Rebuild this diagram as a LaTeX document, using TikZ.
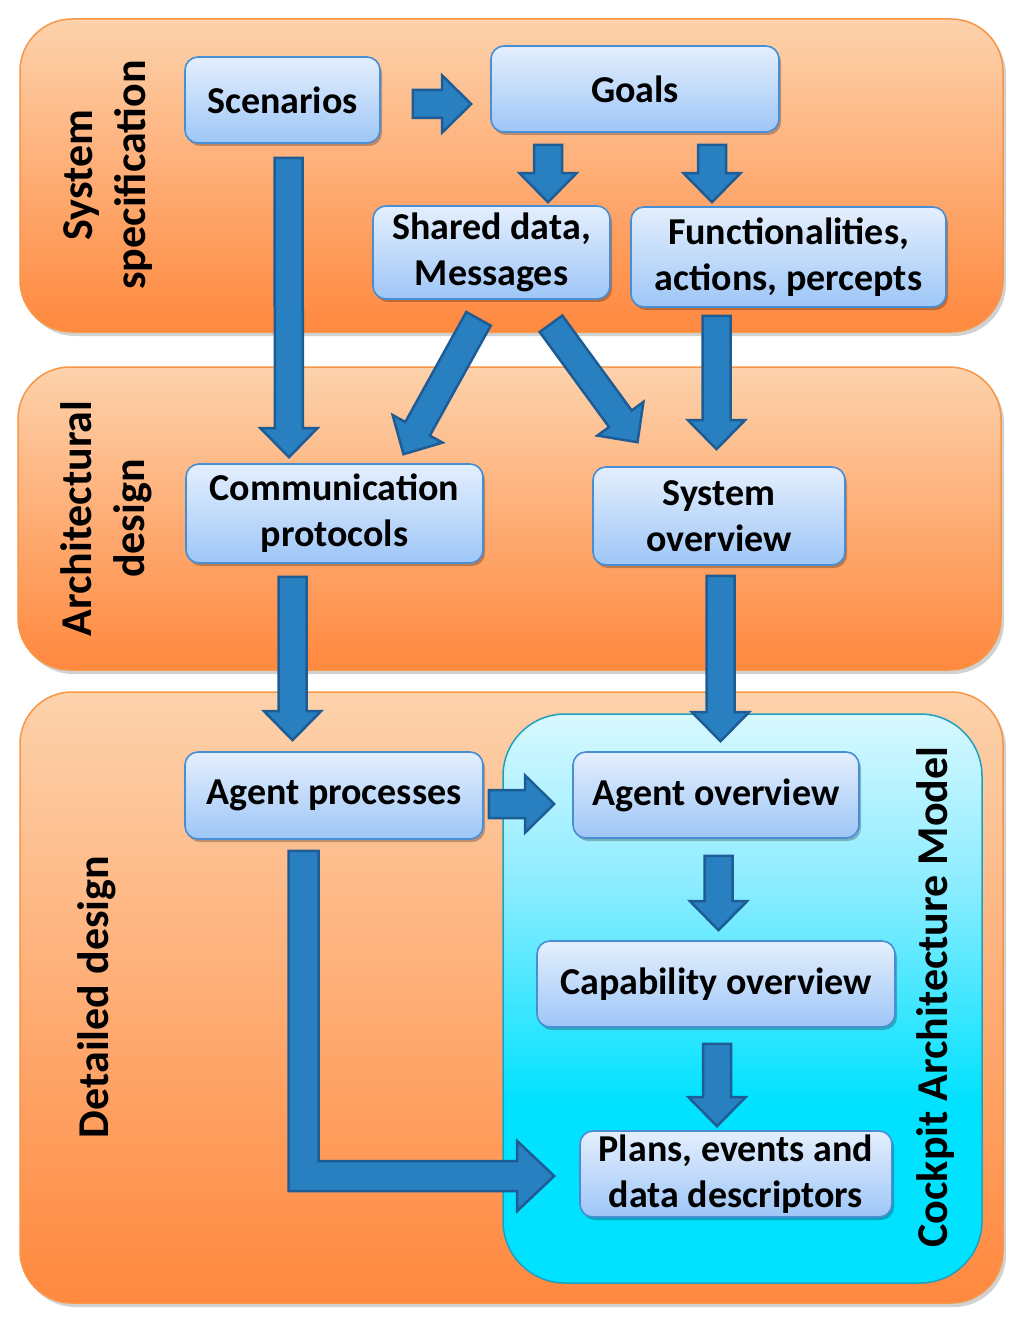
\documentclass[tikz,border=0pt]{standalone}
\usepackage{fontspec}
\setmainfont{Carlito}
\usetikzlibrary{calc,shadows}
\definecolor{orT}{RGB}{253,210,172}
\definecolor{orB}{RGB}{255,136,62}
\definecolor{orE}{RGB}{247,150,70}
\definecolor{bxT}{RGB}{228,239,253}
\definecolor{bxB}{RGB}{158,198,247}
\definecolor{bxE}{RGB}{72,142,212}
\definecolor{arF}{RGB}{40,128,192}
\definecolor{arE}{RGB}{30,92,150}
\definecolor{cyT}{RGB}{216,248,255}
\definecolor{cyM}{RGB}{140,236,255}
\definecolor{cyB}{RGB}{0,226,255}
\definecolor{cyE}{RGB}{30,160,190}
\pgfdeclareverticalshading{cyanpanel}{100bp}{color(0bp)=(cyB); color(25bp)=(cyB); color(41bp)=(cyB); color(60bp)=(cyM); color(75bp)=(cyT); color(100bp)=(cyT)}
\tikzset{
  band/.style={rounded corners=52pt, top color=orT, bottom color=orB, draw=orE, line width=1.5pt,
    drop shadow={shadow xshift=3pt, shadow yshift=-4pt, fill=black, opacity=0.18}},
  panel/.style={rounded corners=62pt, shading=cyanpanel, draw=cyE, line width=1.5pt},
  box/.style={rectangle, rounded corners=13pt, top color=bxT, bottom color=bxB, draw=bxE, line width=1.6pt,
    font=\fontsize{38}{46}\selectfont\bfseries, align=center, inner sep=0pt,
    drop shadow={shadow xshift=2pt, shadow yshift=-3pt, fill=black, opacity=0.25}},
  lab/.style={font=\fontsize{44}{53}\selectfont\bfseries, align=center, rotate=90, inner sep=0pt},
  fatarr/.style={fill=arF, draw=arE, line width=2.5pt, line join=miter}
}
\newcommand\fatarrow[2]{%
  \draw[fatarr] let \p1=(#1), \p2=(#2),
     \n1={atan2(\y2-\y1,\x2-\x1)}, \n2={veclen(\x2-\x1,\y2-\y1)} in
     {[shift={(\p1)}, rotate=\n1]
      (0,-14) -- (\n2-29,-14) -- (\n2-29,-28.5) -- (\n2,0) -- (\n2-29,28.5) -- (\n2-29,14) -- (0,14) -- cycle};
}
\begin{document}
\begin{tikzpicture}[x=1pt,y=1pt]
\useasboundingbox (0,0) rectangle (1024,-1329);
\fill[white] (0,0) rectangle (1024,-1329);
% bands
\draw[band] (20,-19) rectangle (1003,-332);
\draw[band] (18,-367) rectangle (1001,-670);
\draw[band] (20,-692) rectangle (1003,-1303);
\draw[panel] (503,-714) rectangle (982,-1283);
% boxes
\node[box, minimum width=195pt, minimum height=86pt] (sc) at (282.5,-100) {Scenarios};
\node[box, minimum width=288pt, minimum height=86pt] (go) at (635,-89) {Goals};
\node[box, minimum width=237pt, minimum height=93pt] (sd) at (491.5,-252.5) {Shared data,\\Messages};
\node[box, minimum width=315pt, minimum height=100pt] (fu) at (788.5,-257) {Functionalities,\\actions, percepts};
\node[box, minimum width=297pt, minimum height=99pt] (cp) at (334.5,-513.5) {Communication\\protocols};
\node[box, minimum width=252pt, minimum height=98pt] (so) at (719,-516) {System\\overview};
\node[box, minimum width=298pt, minimum height=87pt] (ap) at (334,-795.5) {Agent processes};
\node[box, minimum width=286pt, minimum height=86pt] (ao) at (716,-795) {Agent overview};
\node[box, minimum width=358pt, minimum height=86pt] (co) at (716,-984) {Capability overview};
\node[box, minimum width=312pt, minimum height=86pt] (pl) at (736,-1174) {Plans, events and\\data descriptors};
% arrows
\fatarrow{$(sc.east)+(32,-4)$}{$(go.west)+(-19,-15)$}
\fatarrow{$(go.south)+(-87,-12)$}{$(sd.north)+(56.5,3)$}
\fatarrow{$(go.south)+(77,-12)$}{$(fu.north)+(-76.5,4)$}
\fatarrow{$(sc.south)+(6,-14)$}{$(cp.north)+(-45.5,6)$}
\fatarrow{$(sd.south)+(-13,-19)$}{$(cp.north)+(69,9)$}
\fatarrow{$(sd.south)+(59.5,-24)$}{$(so.north)+(-81.5,24)$}
\fatarrow{$(fu.south)+(-72,-8)$}{$(so.north)+(-2.5,17)$}
\fatarrow{$(cp.south)+(-42,-13)$}{$(ap.north)+(-41.5,11)$}
\fatarrow{$(so.south)+(1.5,-10)$}{$(ao.north)+(4.5,10)$}
\fatarrow{$(ap.east)+(5,-8.5)$}{$(ao.west)+(-18,-9)$}
\fatarrow{$(ao.south)+(2.5,-17)$}{$(co.north)+(2.5,10)$}
\fatarrow{$(co.south)+(1,-16)$}{$(pl.north)+(-19,4)$}
\coordinate (ea) at ($(ap.south)+(-30.5,-11)$);
\coordinate (eb) at ($(pl.west)+(-25,-2)$);
\draw[fatarr] let \p1=(ea), \p2=(eb) in
  (\x1-15,\y1) -- (\x1+15,\y1) -- (\x1+15,\y2+15) -- (\x2-37,\y2+15) -- (\x2-37,\y2+35) -- (\x2,\y2)
  -- (\x2-37,\y2-35) -- (\x2-37,\y2-15) -- (\x1-15,\y2-15) -- cycle;
% labels
\node[lab] (l1) at (108,-175) {System\\specification};
\node[lab] (l2) at (106,-518.5) {Architectural\\design};
\node[lab] (l3) at (97,-997) {Detailed design};
\node[lab] (l4) at (936,-997) {Cockpit Architecture Model};
\end{tikzpicture}
\end{document}
